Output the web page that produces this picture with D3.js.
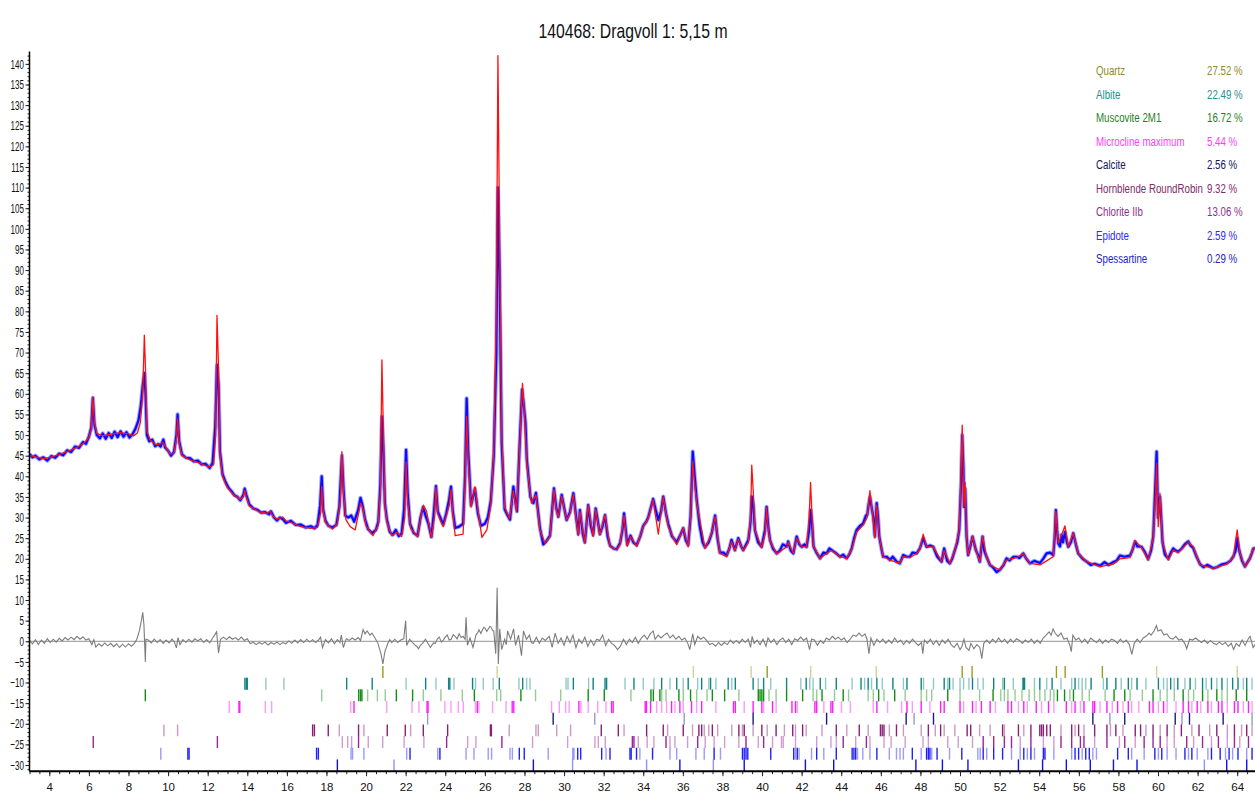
<!DOCTYPE html>
<html>
<head>
<meta charset="utf-8">
<script src="https://cdn.jsdelivr.net/npm/d3@7"></script>
<style>
  body { margin: 0; background: #fff; }
  svg { display: block; }
  text { font-family: "Liberation Sans", Arial, sans-serif; }
</style>
</head>
<body>
<svg id="chart" width="1255" height="793"></svg>
<script>
// ---- Rietveld refinement plot: 140468, Dragvoll 1, 5,15 m ----
const title = "140468: Dragvoll 1: 5,15 m";

// measured (observed) intensity, [2θ, counts/1000]
const observed = [[3.0,45.4],[3.15,44.6],[3.3,45.0],[3.5,44.1],[3.7,44.6],[3.9,43.8],[4.1,44.9],[4.3,44.5],[4.5,45.5],[4.7,45.1],[4.9,46.3],[5.1,45.9],[5.3,47.2],[5.5,46.9],[5.7,48.3],[5.85,47.9],[6.0,49.6],[6.12,51.8],[6.2,59],[6.28,52.5],[6.4,50.0],[6.55,49.2],[6.7,50.4],[6.85,49.1],[7.0,50.5],[7.15,49.3],[7.3,50.8],[7.45,49.5],[7.6,50.9],[7.75,49.6],[7.9,50.7],[8.05,49.4],[8.2,50.2],[8.35,51.5],[8.5,53.5],[8.62,57],[8.72,62],[8.8,65],[8.86,60],[8.93,50],[9.05,48.5],[9.2,48.9],[9.35,47.3],[9.5,47.8],[9.62,47.2],[9.76,48.9],[9.85,47.0],[10.0,46.2],[10.15,45.0],[10.3,45.9],[10.42,50],[10.48,55],[10.56,48.5],[10.7,45.3],[10.9,44.5],[11.1,44.4],[11.3,43.6],[11.5,43.8],[11.7,42.9],[11.9,43.0],[12.1,42.0],[12.25,43.3],[12.38,52],[12.47,67],[12.55,62],[12.62,46],[12.75,40.5],[12.9,38.6],[13.05,37.2],[13.2,36.4],[13.35,35.4],[13.5,35.0],[13.65,34.2],[13.8,35.5],[13.87,37],[13.95,35.5],[14.1,33.2],[14.3,32.2],[14.5,31.9],[14.7,31.2],[14.9,31.3],[15.1,30.8],[15.2,31.5],[15.35,30.0],[15.5,29.3],[15.65,30.0],[15.8,29.6],[15.95,28.7],[16.2,29.2],[16.45,28.2],[16.7,28.3],[16.95,27.6],[17.2,27.9],[17.4,27.4],[17.55,28.2],[17.68,33],[17.76,40],[17.83,32],[17.95,29.2],[18.1,28.0],[18.3,27.6],[18.5,28.2],[18.65,32.6],[18.78,45],[18.86,37],[18.95,30.5],[19.1,30.0],[19.25,30.5],[19.4,29.0],[19.6,31.8],[19.72,34.8],[19.82,33],[19.95,29.5],[20.1,27.2],[20.3,26.2],[20.5,27],[20.62,29],[20.72,38],[20.8,54.5],[20.87,47],[20.95,33.5],[21.05,29.5],[21.2,26.5],[21.35,25.8],[21.5,27.0],[21.65,25.5],[21.8,26.2],[21.92,32],[22.02,46.4],[22.1,36],[22.22,28.5],[22.4,26.3],[22.6,25.6],[22.75,30],[22.88,32.5],[23.0,30.5],[23.15,28.5],[23.3,25.3],[23.42,31],[23.53,37.6],[23.62,31.5],[23.75,30],[23.9,28.3],[24.05,31],[24.18,34],[24.29,37.5],[24.38,31.5],[24.5,27.5],[24.7,27.8],[24.9,28.5],[25.0,40],[25.08,58.9],[25.16,46],[25.3,33],[25.5,37],[25.65,31],[25.8,28],[26.0,28.5],[26.15,30],[26.3,34],[26.45,45],[26.58,70],[26.66,110],[26.74,90],[26.85,48],[27.0,32],[27.15,30.5],[27.27,29.5],[27.44,37.5],[27.55,33.5],[27.62,31.5],[27.75,47],[27.88,61],[27.95,58],[28.05,53],[28.12,44],[28.3,35],[28.45,33.5],[28.58,36],[28.78,27.5],[28.95,23.5],[29.1,24.2],[29.29,25.6],[29.49,37.1],[29.6,32.5],[29.71,30.2],[29.88,35.5],[30.0,32.5],[30.13,29.4],[30.3,31.3],[30.47,35.9],[30.6,30.5],[30.72,26],[30.8,31.8],[30.95,26],[31.05,24],[31.22,33],[31.35,28],[31.47,25.8],[31.6,32.2],[31.81,26],[31.95,28],[32.07,30.6],[32.2,25.5],[32.32,23.2],[32.5,22.5],[32.66,22.3],[32.83,23.8],[32.95,27],[33.03,31],[33.19,23.5],[33.36,25.6],[33.5,24],[33.67,23.3],[33.85,25.5],[34.0,28],[34.15,29],[34.25,30],[34.5,34.5],[34.62,32],[34.76,29.4],[34.9,31.5],[35.01,35.1],[35.15,31],[35.26,28.5],[35.45,25.5],[35.69,24],[35.85,25.5],[36.02,27.4],[36.15,24.5],[36.27,23.3],[36.39,30.2],[36.5,46],[36.6,40],[36.7,34.3],[36.85,28],[37.0,24],[37.12,22.8],[37.3,24],[37.46,26.2],[37.63,30.5],[37.75,25],[37.87,21.5],[38.05,21.5],[38.21,20.8],[38.35,22.5],[38.46,24.6],[38.63,22.1],[38.8,25],[38.95,23],[39.05,22.1],[39.2,23.5],[39.31,24.6],[39.42,29],[39.48,35.1],[39.56,33],[39.64,27],[39.8,24],[39.98,22.9],[40.15,27],[40.23,32.6],[40.32,27.5],[40.4,24.6],[40.55,22.5],[40.74,21.3],[40.9,22],[41.05,23.5],[41.25,23],[41.32,24.2],[41.45,22],[41.58,21.3],[41.75,25.4],[41.88,23.5],[42.0,22.9],[42.15,23.5],[42.25,22.9],[42.38,27],[42.45,31.8],[42.52,29],[42.6,23],[42.75,21.5],[42.93,20.1],[43.1,21.5],[43.26,21.3],[43.4,22.5],[43.52,22.1],[43.7,21.5],[43.94,20.5],[44.1,21],[44.27,20.1],[44.4,21],[44.53,22.5],[44.65,25],[44.78,27],[44.95,28],[45.11,28.6],[45.25,30.5],[45.31,30.6],[45.38,33],[45.45,35],[45.55,32],[45.62,30.2],[45.7,25.5],[45.79,33.5],[45.86,30],[45.92,25.4],[46.05,22],[46.12,20.5],[46.3,20.5],[46.46,19.7],[46.6,20.5],[46.8,19.3],[46.96,18.9],[47.13,20.9],[47.3,20.5],[47.47,20.5],[47.6,21.5],[47.81,21.3],[47.97,22.5],[48.14,25],[48.31,22.9],[48.5,23.2],[48.65,22.9],[48.85,20.5],[49.07,19.3],[49.2,22.5],[49.35,19.5],[49.49,18.9],[49.6,20],[49.74,22.1],[49.86,24],[49.96,27],[50.05,38],[50.11,50],[50.17,42],[50.2,32.6],[50.26,37],[50.33,25.4],[50.41,20.9],[50.52,23],[50.63,25.4],[50.8,22.1],[50.9,21],[51.0,19.3],[51.14,25.4],[51.22,22],[51.34,20.5],[51.51,18.5],[51.65,18],[51.85,16.8],[52.01,17.3],[52.2,18.5],[52.35,20.1],[52.5,19.6],[52.7,20.5],[52.86,20.5],[53.0,20.2],[53.19,21.3],[53.35,20],[53.53,18.9],[53.75,19.5],[54.04,19],[54.2,20],[54.37,21.3],[54.55,21.5],[54.71,20.9],[54.78,25],[54.84,31.8],[54.9,27],[54.96,23.8],[55.05,23],[55.13,25.8],[55.2,24],[55.3,26.5],[55.4,24],[55.47,22.9],[55.6,24],[55.72,26.2],[55.85,23.5],[55.97,21.3],[56.2,20],[56.4,19.3],[56.6,18.5],[56.8,18.8],[57.07,18.3],[57.3,19.2],[57.5,18.5],[57.74,19.2],[57.9,19.5],[58.08,20.8],[58.3,20.5],[58.59,20.8],[58.7,22],[58.84,24.2],[58.95,23],[59.05,23],[59.17,22.9],[59.35,21.5],[59.5,19.9],[59.65,22],[59.76,25.4],[59.85,36],[59.93,46],[60.0,30],[60.1,35],[60.16,30],[60.23,24],[60.35,21],[60.52,20],[60.65,21.5],[60.77,22.5],[60.9,22],[61.02,21.7],[61.2,22.5],[61.35,23.5],[61.53,24.2],[61.65,23.2],[61.78,22.6],[61.95,20.5],[62.12,18.7],[62.3,18],[62.5,18.5],[62.79,17.7],[63.0,18],[63.2,18.6],[63.47,18.9],[63.65,19.5],[63.8,20.5],[63.92,22],[64.0,25],[64.06,23],[64.14,21.3],[64.25,19.5],[64.39,18.1],[64.5,19],[64.64,20.1],[64.75,21.5],[64.81,22.5],[65.0,22.6]];

// refined (calculated) pattern
const calculated = [[3.0,45.1],[3.3,44.7],[3.7,44.3],[4.2,44.8],[4.9,46.0],[5.4,47.0],[5.75,48.0],[6.0,49.4],[6.12,51.5],[6.2,59.2],[6.28,53],[6.4,50.4],[6.7,49.8],[7.2,50.3],[7.6,50.6],[8.0,50.3],[8.25,49.8],[8.45,50.5],[8.6,53],[8.72,60],[8.8,74.2],[8.86,66],[8.93,51],[9.1,48.8],[9.4,47.6],[9.6,47.9],[9.75,48.2],[9.85,47.3],[10.1,45.4],[10.3,45.6],[10.42,49],[10.48,54.0],[10.56,48],[10.7,45],[11.1,44.0],[11.6,43.2],[12.1,42.2],[12.3,42.8],[12.4,50],[12.47,79],[12.55,66],[12.62,45],[12.75,40],[12.96,37.5],[13.3,35.5],[13.65,34.4],[13.8,35],[13.87,36.6],[13.95,35],[14.1,32.8],[14.6,31.4],[15.0,31.0],[15.15,31.6],[15.3,30.3],[15.5,29.6],[15.8,30.1],[15.95,29.2],[16.2,28.8],[16.7,27.8],[17.2,27.4],[17.55,27.6],[17.7,31],[17.76,37.5],[17.82,32],[17.95,28.8],[18.3,27.2],[18.55,28.5],[18.7,34],[18.78,46.0],[18.86,36],[18.98,29.5],[19.2,27.8],[19.45,27.0],[19.6,30.5],[19.72,33.5],[19.82,32.5],[20.0,28],[20.35,25.6],[20.6,28],[20.72,36],[20.8,68.2],[20.87,52],[20.95,33],[21.05,29],[21.3,25.6],[21.55,26.4],[21.8,25.4],[21.95,30],[22.02,43.5],[22.1,34],[22.25,27.4],[22.6,25.3],[22.8,31],[22.9,33.0],[23.05,31.6],[23.3,25.2],[23.45,30],[23.53,37.3],[23.62,31],[23.75,29.3],[23.9,27.8],[24.2,33],[24.29,36.8],[24.38,31],[24.5,25.6],[24.9,26.0],[25.0,38],[25.08,54.5],[25.16,44],[25.3,32.5],[25.5,37.5],[25.65,32],[25.85,25.2],[26.1,27],[26.3,33],[26.45,46],[26.58,80],[26.66,142],[26.74,100],[26.85,50],[27.0,32.5],[27.25,29.8],[27.44,36.5],[27.6,31.5],[27.75,46],[27.9,62.5],[28.0,55],[28.12,43],[28.35,33.5],[28.58,35.5],[28.78,27],[29.04,23.8],[29.29,25.4],[29.49,36.8],[29.6,32],[29.71,30.2],[29.88,35.2],[30.13,29.4],[30.3,31],[30.47,35.6],[30.6,30],[30.72,25.6],[30.8,31.5],[31.05,23.8],[31.22,33],[31.47,25.4],[31.6,32],[31.81,25.8],[32.07,30.6],[32.32,23],[32.66,22.2],[32.83,23.5],[33.03,30.5],[33.19,23],[33.36,25.4],[33.67,23],[34.0,27.8],[34.25,29.8],[34.5,34.3],[34.76,26],[35.01,35],[35.26,27.8],[35.69,23.4],[36.02,27.4],[36.27,22.9],[36.39,30],[36.5,43.6],[36.6,38],[36.7,33.5],[37.12,22.5],[37.46,26.2],[37.63,30.2],[37.87,21.3],[38.21,20.5],[38.46,24.2],[38.63,22],[38.8,24.8],[39.05,22],[39.31,24],[39.42,30],[39.48,42.7],[39.56,36],[39.64,27],[39.98,22.7],[40.15,26],[40.23,32.4],[40.32,27],[40.4,24.4],[40.74,21.2],[41.25,22.9],[41.32,24],[41.58,21.3],[41.75,25],[42.0,22.9],[42.25,22.9],[42.38,30],[42.45,38.5],[42.52,31],[42.6,23],[42.93,20.1],[43.26,21.3],[43.52,22],[43.94,20.5],[44.27,20.1],[44.53,22.3],[44.78,26.5],[45.11,28.2],[45.31,30],[45.45,36.5],[45.55,32],[45.62,29.5],[45.7,25],[45.79,33],[45.86,29],[45.92,25.4],[46.12,20.5],[46.46,19.7],[46.96,18.9],[47.13,20.5],[47.47,20.3],[47.81,21.3],[47.97,22.3],[48.14,26],[48.31,22.9],[48.65,22.9],[49.07,19.3],[49.2,22],[49.49,18.9],[49.74,22],[49.96,27],[50.05,40],[50.11,52.4],[50.17,40],[50.2,32.6],[50.26,38.5],[50.33,25.4],[50.41,20.9],[50.63,25.4],[50.8,22.1],[51.0,19.3],[51.14,25.4],[51.34,20.5],[51.51,18.5],[52.01,17.3],[52.35,19.7],[52.86,20.3],[53.19,21.2],[53.53,18.9],[54.04,18.5],[54.37,19.5],[54.71,20.5],[54.84,31.5],[54.96,23.8],[55.13,25.8],[55.3,28],[55.47,22.9],[55.72,26.2],[55.97,21.3],[56.4,19.3],[57.07,18.1],[57.74,18.7],[58.08,20],[58.59,20.3],[58.84,24.4],[59.17,22.7],[59.5,19.7],[59.76,25],[59.87,35],[59.93,43.2],[60.01,27.8],[60.1,35.9],[60.23,23.8],[60.52,19.7],[60.77,22.1],[61.02,21.5],[61.53,24],[61.78,22.9],[62.12,18.5],[62.79,17.7],[63.47,18.7],[63.8,20.3],[64.0,27],[64.14,21.3],[64.39,18.1],[64.64,20.1],[64.81,22.5],[65.0,22.8]];

// observed minus calculated
const difference = [[3.0,0.2],[3.15,-0.6],[3.3,0.4],[3.45,-0.8],[3.6,0.3],[3.75,-0.5],[3.9,0.6],[4.05,-0.3],[4.2,0.5],[4.35,-0.2],[4.5,0.7],[4.65,0.1],[4.8,0.9],[4.95,0.3],[5.1,1.0],[5.25,0.4],[5.4,1.2],[5.55,0.5],[5.7,1.1],[5.85,0.3],[6.0,0.6],[6.15,-0.8],[6.25,0.4],[6.35,-1.4],[6.5,-0.6],[6.65,-1.2],[6.8,-0.4],[6.95,-1.1],[7.1,-0.5],[7.25,-1.3],[7.4,-0.6],[7.55,-1.5],[7.7,-0.7],[7.85,-1.4],[8.0,-0.6],[8.15,-1.2],[8.3,-0.5],[8.42,0.5],[8.55,2.5],[8.65,5],[8.72,7],[8.78,4],[8.82,-1],[8.85,-5],[8.88,0.5],[9.0,0.3],[9.15,-0.4],[9.3,0.5],[9.45,-0.3],[9.6,0.4],[9.75,-0.5],[9.9,0.3],[10.05,-0.4],[10.2,0.5],[10.32,-0.2],[10.42,-1.6],[10.5,0.9],[10.6,-0.8],[10.75,0.4],[10.9,-0.3],[11.05,0.5],[11.2,-0.2],[11.35,0.6],[11.5,0.1],[11.65,0.6],[11.8,-0.3],[11.95,0.4],[12.1,-0.4],[12.25,0.8],[12.35,1.5],[12.45,2.3],[12.55,-2.8],[12.65,0.5],[12.8,1.0],[12.95,0.4],[13.1,1.1],[13.25,0.5],[13.4,0.9],[13.55,0.3],[13.7,1.0],[13.85,0.2],[14.0,0.6],[14.15,-0.6],[14.3,-0.2],[14.45,-0.8],[14.6,-0.3],[14.75,-0.7],[14.9,-0.2],[15.05,-0.9],[15.2,-0.3],[15.35,-0.7],[15.5,-0.2],[15.65,-0.8],[15.8,-0.3],[15.95,-0.6],[16.1,0.1],[16.25,-0.5],[16.4,0.3],[16.55,-0.4],[16.7,0.4],[16.85,-0.3],[17.0,0.5],[17.15,-0.2],[17.3,0.4],[17.45,-0.3],[17.6,0.3],[17.7,1.0],[17.8,-1.5],[17.95,0.4],[18.1,-0.4],[18.25,0.6],[18.4,-0.6],[18.55,0.4],[18.68,-0.3],[18.75,1.5],[18.85,-1.5],[19.0,0.6],[19.15,0.2],[19.3,0.8],[19.45,0.3],[19.6,0.9],[19.72,0.2],[19.85,2.8],[19.95,1.8],[20.05,2.5],[20.2,1.5],[20.3,2.0],[20.45,0.8],[20.6,-0.5],[20.75,-3],[20.85,-5.5],[20.95,-2.5],[21.1,-0.5],[21.2,0.4],[21.3,-0.3],[21.45,0.5],[21.6,-0.3],[21.75,0.3],[21.9,0.6],[22.0,5],[22.05,-1],[22.2,0.5],[22.35,-0.3],[22.45,-0.8],[22.55,-1.2],[22.65,-1.8],[22.75,-0.9],[22.85,-0.5],[23.0,0.5],[23.1,-0.3],[23.25,-1.5],[23.4,-0.4],[23.5,-0.5],[23.6,0.6],[23.7,1],[23.8,-0.2],[23.9,0.3],[24.0,1.0],[24.1,1.5],[24.2,0.3],[24.3,0.5],[24.4,1.6],[24.5,1.2],[24.6,0.6],[24.7,1.8],[24.8,0.9],[24.9,1.2],[25.0,0.5],[25.05,5.8],[25.12,-1],[25.25,0.8],[25.4,-1.5],[25.55,1.5],[25.65,2.2],[25.7,2.8],[25.8,1.9],[25.85,2.5],[25.95,3.4],[26.0,3.2],[26.1,2.4],[26.15,2.8],[26.25,3.6],[26.3,3.5],[26.4,2.6],[26.45,2.5],[26.55,-3],[26.62,13],[26.68,-5.5],[26.75,3],[26.85,-2],[27.0,0.5],[27.08,-0.8],[27.15,2.5],[27.3,0.5],[27.45,3],[27.55,-1],[27.7,1.5],[27.85,-3.5],[27.95,2.5],[28.1,0.5],[28.25,1.5],[28.35,-0.3],[28.45,-0.5],[28.6,1],[28.75,-0.5],[28.9,0.8],[29.05,0.2],[29.25,1.2],[29.4,-1.5],[29.55,2],[29.7,-0.5],[29.85,0.8],[30.0,-1],[30.15,1.2],[30.3,-0.3],[30.45,1.5],[30.6,-1.5],[30.75,0.5],[30.9,-0.5],[31.05,1],[31.2,-1.2],[31.35,0.3],[31.5,-1],[31.65,0.5],[31.8,0.2],[31.95,1.5],[32.1,-1],[32.25,0.5],[32.4,-0.5],[32.55,-1],[32.7,-2],[32.85,-1.2],[33.0,0.5],[33.15,-0.8],[33.3,0.5],[33.45,-0.3],[33.6,1],[33.75,-0.5],[33.9,0.8],[34.05,1.5],[34.2,0.5],[34.35,1.8],[34.5,2.5],[34.6,0.5],[34.75,1.5],[34.9,0.8],[35.05,1.5],[35.2,2],[35.35,0.8],[35.5,1.5],[35.65,0.5],[35.8,1.2],[35.95,0.3],[36.1,0.8],[36.25,-0.5],[36.35,-2],[36.5,1.8],[36.6,-0.8],[36.75,1.2],[36.9,0.5],[37.05,1],[37.2,0.2],[37.35,-0.8],[37.5,-0.5],[37.65,-1.2],[37.8,-0.3],[37.95,-1],[38.1,-0.3],[38.25,-0.8],[38.4,0.3],[38.55,-0.5],[38.7,0.2],[38.85,-0.5],[39.0,0.5],[39.15,-0.3],[39.3,0.5],[39.42,-1.5],[39.5,1.2],[39.6,-0.5],[39.75,0.3],[39.9,-0.8],[40.05,0.5],[40.2,-1.2],[40.3,0.8],[40.45,-0.3],[40.6,0.5],[40.75,-0.8],[40.9,0.3],[41.05,0.8],[41.2,-0.3],[41.35,0.5],[41.5,-0.8],[41.65,0.6],[41.8,0.2],[41.95,1],[42.1,0.2],[42.25,0.8],[42.4,-2],[42.5,0.5],[42.65,0.3],[42.8,-1],[42.95,0.2],[43.1,-0.5],[43.25,0.8],[43.4,0.3],[43.55,1.2],[43.7,0.5],[43.85,1],[44.0,0.3],[44.15,0.8],[44.3,-0.3],[44.45,0.5],[44.6,1.5],[44.75,1.2],[44.9,2],[45.05,1.2],[45.2,1.8],[45.3,0.5],[45.4,-3],[45.5,0.8],[45.65,-1],[45.8,0.5],[45.95,-0.3],[46.1,0.5],[46.25,-0.5],[46.4,0.3],[46.55,-0.5],[46.7,0.8],[46.85,-0.3],[47.0,0.3],[47.15,-0.8],[47.3,0.2],[47.45,-0.5],[47.6,0.5],[47.75,-0.3],[47.9,-1],[48.05,-0.3],[48.12,-3],[48.2,0.3],[48.35,-0.5],[48.5,0.5],[48.65,-0.8],[48.8,0.2],[48.95,-1],[49.1,0.3],[49.25,-0.5],[49.4,0.5],[49.55,-0.8],[49.7,-1.5],[49.85,-0.5],[50.0,-2],[50.1,-1.2],[50.2,0.5],[50.3,-1.5],[50.45,-2.2],[50.55,-0.5],[50.7,-1.8],[50.85,-0.8],[51.0,-1.5],[51.1,-4.2],[51.2,-0.5],[51.35,0.3],[51.5,-0.5],[51.65,0.5],[51.8,-0.3],[51.95,0.8],[52.1,-0.2],[52.25,0.5],[52.4,-0.5],[52.55,0.5],[52.7,-0.3],[52.85,0.6],[53.0,0.2],[53.15,-0.5],[53.3,0.3],[53.45,-0.3],[53.6,0.5],[53.75,-0.5],[53.9,0.3],[54.05,-0.5],[54.2,0.8],[54.35,1.5],[54.5,2.3],[54.6,1.5],[54.7,3],[54.8,2],[54.95,1.2],[55.1,2],[55.25,0.5],[55.4,0.8],[55.55,-1],[55.62,-2.5],[55.7,1.5],[55.85,0.3],[56.0,0.8],[56.15,-0.3],[56.3,0.5],[56.45,-0.5],[56.6,0.8],[56.75,0.2],[56.9,-0.3],[57.05,0.5],[57.2,-0.5],[57.35,0.3],[57.5,-0.3],[57.65,0.5],[57.8,0.2],[57.95,-0.5],[58.1,0.5],[58.25,-0.3],[58.4,0.3],[58.55,-0.8],[58.68,-3.2],[58.8,-0.5],[58.95,0.5],[59.1,-0.3],[59.25,0.8],[59.4,1.2],[59.55,2],[59.65,1.5],[59.8,2.5],[59.92,3.8],[60.0,2.5],[60.15,2.8],[60.3,1.5],[60.45,1.8],[60.6,0.8],[60.75,0.5],[60.9,1.2],[61.05,0.3],[61.2,0.5],[61.35,-0.5],[61.45,-1.8],[61.6,0.5],[61.75,0.3],[61.9,0.8],[62.05,0.2],[62.2,-0.3],[62.35,0.3],[62.5,-0.5],[62.65,0.2],[62.8,-0.5],[62.95,-0.8],[63.1,-0.2],[63.25,-0.8],[63.4,-0.3],[63.55,-1.2],[63.7,-0.5],[63.82,-2],[63.95,-0.5],[64.1,-1.2],[64.25,0.3],[64.4,-1],[64.55,0.5],[64.65,1.2],[64.8,-1.5],[64.95,-0.5]];

// phase names, weight fractions and colours
const phaseNames = ["Quartz", "Albite", "Muscovite 2M1", "Microcline maximum", "Calcite",
                    "Hornblende RoundRobin", "Chlorite IIb", "Epidote", "Spessartine"];
const phasePercents = ["27.52 %", "22.49 %", "16.72 %", "5.44 %", "2.56 %",
                       "9.32 %", "13.06 %", "2.59 %", "0.29 %"];
const phaseColors = ["#9b9b1e", "#108484", "#138c13", "#ff1cff", "#1c1c78",
                     "#8a1f78", "#9a269a", "#2020ff", "#1010e8"];
const legendColors = ["#8c8c28", "#2a8c8c", "#1f7f1f", "#ff3cff", "#14145a",
                      "#7f2a6a", "#8e2f8e", "#2c2cf0", "#2323c8"];

// reflection positions per phase: [2θ, relative strength]
const quartzTicks = [[20.85,1],[26.62,0.5],[36.53,0.5],[39.45,0.5],[40.26,1],[42.46,0.5],[45.77,0.5],[50.11,1],[50.61,1],[54.87,1],[55.31,1],[57.19,1],[59.93,0.5],[64.0,0.5]];
const albiteTicks = [[13.88,1],[13.95,1],[14.0,1],[14.94,0.5],[15.85,0.5],[19.02,1],[20.31,1],[22.02,0.5],[23.01,1],[23.53,0.5],[24.17,1],[24.23,1],[24.44,0.5],[25.38,1],[25.53,0.5],[25.92,0.5],[26.42,0.5],[26.73,1],[27.72,0.5],[27.91,1],[28.11,0.5],[28.28,0.5],[30.1,0.5],[30.2,0.5],[30.47,1],[31.24,0.5],[31.47,1],[32.07,1],[32.15,1],[33.08,0.5],[33.53,1],[34.0,0.5],[34.54,0.5],[34.93,1],[35.35,0.5],[35.69,1],[36.02,0.5],[36.27,1],[36.75,0.5],[36.95,1],[37.31,0.5],[37.4,1],[37.67,0.5],[38.29,1],[38.47,0.5],[38.65,1],[39.55,1],[39.81,0.5],[40.08,1],[40.44,0.5],[41.24,1],[41.96,0.5],[42.23,1],[42.41,0.5],[42.58,0.5],[42.94,1],[43.21,0.5],[43.75,1],[44.55,0.5],[45.0,1],[45.18,0.5],[45.36,1],[45.53,0.5],[45.8,1],[46.07,0.5],[46.61,1],[47.14,0.5],[47.32,1],[48.04,1],[48.16,0.5],[48.66,0.5],[49.2,1],[49.38,0.5],[49.47,1],[49.65,0.5],[50.0,0.5],[50.18,0.5],[50.45,0.5],[50.63,1],[50.9,0.5],[51.17,0.5],[51.7,1],[52.15,0.5],[52.24,1],[52.69,0.5],[53.18,1],[53.22,1],[53.26,1],[53.76,0.5],[54.03,1],[54.38,0.5],[54.65,1],[55.1,0.5],[55.64,0.5],[55.81,1],[55.99,0.5],[56.17,0.5],[56.35,0.5],[56.62,1],[57.24,0.5],[57.42,1],[57.87,1],[58.14,0.5],[58.5,1],[58.67,0.5],[58.94,1],[59.39,0.5],[60.02,1],[60.28,0.5],[60.46,0.5],[60.64,1],[60.82,0.5],[61.0,1],[61.36,0.5],[61.62,1],[61.89,0.5],[62.25,1],[62.43,0.5],[62.7,1],[62.97,0.5],[63.23,1],[63.5,0.5],[63.77,1],[64.04,1],[64.31,0.5],[64.48,1],[64.75,0.5]];
const muscoviteTicks = [[8.85,1],[17.76,0.5],[19.63,1],[19.72,1],[19.79,1],[20.08,0.5],[20.57,0.5],[20.97,0.5],[21.53,1],[22.35,1],[22.89,0.5],[23.78,0.5],[24.86,0.5],[25.47,1],[26.6,0.5],[26.8,0.5],[27.82,1],[28.56,0.5],[29.83,0.5],[31.22,1],[32.03,1],[33.38,0.5],[34.39,1],[34.51,1],[34.84,1],[34.93,0.5],[35.15,0.5],[35.8,1],[36.02,0.5],[36.39,1],[36.7,0.5],[37.22,0.5],[37.49,1],[38.11,1],[38.83,0.5],[39.81,1],[39.9,1],[39.99,1],[40.08,1],[40.35,0.5],[40.71,0.5],[41.24,1],[42.05,1],[42.58,0.5],[42.76,0.5],[43.03,1],[43.66,0.5],[44.1,1],[44.37,0.5],[45.36,0.5],[45.62,0.5],[45.89,1],[46.16,0.5],[46.7,1],[47.23,0.5],[48.04,0.5],[48.31,0.5],[48.57,0.5],[49.38,1],[50.0,0.5],[50.99,0.5],[51.67,1],[52.06,0.5],[52.24,0.5],[52.42,0.5],[52.78,0.5],[53.13,0.5],[53.49,0.5],[53.76,0.5],[54.03,0.5],[54.29,0.5],[54.56,0.5],[54.74,0.5],[54.92,1],[55.28,1],[55.55,0.5],[55.73,1],[56.17,0.5],[56.53,0.5],[57.33,0.5],[57.78,1],[58.32,1],[58.59,0.5],[59.21,0.5],[59.75,1],[60.11,0.5],[60.46,0.5],[60.82,0.5],[61.27,1],[61.54,0.5],[61.8,0.5],[62.25,1],[62.52,0.5],[62.97,1],[63.23,0.5],[63.5,0.5],[63.95,1],[64.48,1]];
const microclineTicks = [[13.09,0.5],[13.58,1],[13.62,1],[14.91,0.5],[15.23,0.5],[19.22,0.5],[19.39,1],[21.04,0.5],[22.32,0.5],[22.67,0.5],[23.08,1],[23.13,1],[23.98,0.5],[24.29,0.5],[24.66,0.5],[24.91,0.5],[25.52,0.5],[25.62,1],[25.7,0.5],[26.39,0.5],[27.07,0.5],[27.38,1],[27.46,1],[29.37,0.5],[29.76,0.5],[30.08,0.5],[30.26,0.5],[30.75,1],[30.85,0.5],[31.22,0.5],[31.7,0.5],[32.12,0.5],[32.4,1],[32.48,1],[34.1,1],[34.16,1],[34.37,1],[34.68,0.5],[34.93,0.5],[35.18,0.5],[35.43,1],[35.6,0.5],[35.85,1],[36.02,0.5],[36.44,1],[36.7,0.5],[36.95,1],[37.67,0.5],[38.56,1],[38.65,1],[39.1,0.5],[39.55,1],[39.99,1],[40.08,0.5],[40.53,1],[40.71,0.5],[41.51,1],[41.69,1],[41.78,0.5],[42.67,1],[42.76,1],[43.12,0.5],[43.48,1],[43.57,1],[44.01,0.5],[44.46,0.5],[45.62,0.5],[45.8,1],[46.34,0.5],[47.05,0.5],[47.32,1],[47.59,0.5],[48.04,1],[48.48,0.5],[49.02,1],[49.2,1],[50.0,1],[50.18,0.5],[50.63,1],[50.81,0.5],[51.08,1],[51.52,1],[51.79,0.5],[52.42,1],[52.6,1],[52.95,0.5],[53.22,1],[53.4,0.5],[53.85,1],[54.12,0.5],[54.47,1],[54.74,0.5],[55.37,1],[55.64,0.5],[55.81,1],[56.08,0.5],[56.26,1],[56.71,1],[56.8,1],[57.07,0.5],[57.42,1],[57.69,0.5],[57.96,1],[58.23,0.5],[58.5,1],[58.67,0.5],[59.03,0.5],[59.57,1],[59.75,1],[60.02,0.5],[60.28,1],[60.46,0.5],[60.91,0.5],[61.27,1],[61.54,1],[61.71,0.5],[61.98,1],[62.16,0.5],[62.52,1],[62.7,0.5],[63.05,1],[63.23,1],[63.5,0.5],[63.86,1],[64.04,1],[64.31,0.5],[64.57,1],[64.75,0.5]];
const calciteTicks = [[23.11,0.5],[29.45,1],[31.55,0.5],[36.07,0.5],[39.55,1],[43.26,1],[47.28,1],[47.68,0.5],[48.66,1],[56.71,1],[57.57,0.5],[58.32,1],[60.87,1],[61.21,0.5],[61.59,1],[63.29,1],[64.75,0.5]];
const hornblendeTicks = [[9.79,0.5],[10.48,0.5],[17.3,1],[17.39,1],[18.09,1],[18.65,0.5],[19.62,1],[19.89,0.5],[21.07,1],[21.98,1],[22.25,0.5],[22.89,1],[24.12,1],[26.28,1],[26.33,1],[27.23,0.5],[28.58,0.5],[28.7,0.5],[29.63,0.5],[30.33,0.5],[31.88,1],[32.74,1],[33.03,0.5],[34.17,1],[35.01,1],[35.23,0.5],[36.02,1],[36.49,0.5],[36.81,1],[36.95,1],[37.08,0.5],[37.31,0.5],[37.49,1],[37.76,0.5],[38.47,0.5],[38.83,1],[39.01,0.5],[39.1,1],[39.55,0.5],[39.99,1],[40.26,0.5],[40.71,1],[41.13,0.5],[41.55,1],[41.69,0.5],[42.05,1],[42.23,0.5],[43.03,0.5],[43.75,1],[44.28,0.5],[44.91,1],[45.36,0.5],[45.98,1],[46.07,1],[46.16,1],[46.43,0.5],[46.79,1],[47.14,0.5],[48.04,0.5],[48.4,1],[48.75,0.5],[49.02,1],[49.2,0.5],[49.74,0.5],[50.36,1],[50.54,1],[50.99,0.5],[51.52,0.5],[52.15,1],[52.24,0.5],[52.95,1],[53.22,0.5],[53.58,1],[54.03,1],[54.12,1],[54.21,1],[54.38,1],[54.56,1],[55.1,0.5],[55.64,1],[55.81,0.5],[55.99,1],[56.26,0.5],[56.8,1],[57.42,1],[57.6,0.5],[57.87,1],[58.23,0.5],[58.85,1],[59.12,1],[59.39,0.5],[59.75,1],[60.11,0.5],[60.46,1],[60.82,0.5],[61.18,1],[61.71,0.5],[62.07,1],[62.61,0.5],[62.97,1],[63.5,0.5],[63.86,1],[64.22,0.5],[64.48,1],[64.75,0.5]];
const chloriteTicks = [[6.22,1],[12.49,1],[18.8,0.5],[19.07,0.5],[19.27,0.5],[19.62,1],[20.11,0.5],[20.84,0.5],[21.92,0.5],[22.92,0.5],[24.07,1],[25.13,0.5],[25.55,0.5],[26.86,1],[28.41,0.5],[30.18,0.5],[31.56,0.5],[31.73,0.5],[32.08,0.5],[33.45,1],[33.53,1],[33.75,0.5],[34.2,0.5],[34.54,0.5],[35.15,1],[35.35,0.5],[35.6,0.5],[36.24,0.5],[36.75,1],[37.13,0.5],[37.58,0.5],[38.11,0.5],[38.83,0.5],[39.19,1],[39.81,0.5],[40.08,1],[40.53,0.5],[40.98,0.5],[41.07,0.5],[41.69,0.5],[42.76,0.5],[43.48,0.5],[43.75,0.5],[44.1,1],[44.73,0.5],[45.27,1],[45.45,0.5],[46.16,0.5],[46.52,0.5],[47.23,0.5],[48.13,0.5],[48.4,0.5],[49.38,0.5],[49.91,0.5],[50.63,0.5],[51.17,1],[51.7,1],[52.24,1],[52.6,1],[53.04,0.5],[53.58,1],[54.21,0.5],[54.74,0.5],[55.1,1],[55.64,1],[56.08,1],[56.26,1],[56.8,0.5],[57.42,1],[58.05,0.5],[58.32,1],[58.85,0.5],[59.3,1],[59.75,1],[60.11,1],[60.46,0.5],[60.82,0.5],[61.45,1],[61.8,0.5],[62.25,1],[62.7,0.5],[63.05,1],[63.5,0.5],[63.86,1],[64.13,0.5],[64.57,1]];
const epidoteTicks = [[9.63,0.5],[11.0,1],[11.06,1],[17.5,1],[17.59,1],[19.24,0.5],[19.32,0.5],[19.89,0.5],[22.05,0.5],[22.22,1],[23.62,0.5],[23.73,1],[25.05,0.5],[25.45,0.5],[26.17,0.5],[26.34,0.5],[27.27,0.5],[27.39,0.5],[27.74,1],[27.99,1],[29.2,0.5],[30.44,0.5],[30.5,0.5],[30.69,1],[30.84,1],[31.9,1],[32.12,0.5],[32.32,1],[33.33,1],[33.39,1],[33.66,1],[33.83,0.5],[34.47,1],[35.35,0.5],[35.69,0.5],[36.66,0.5],[37.08,0.5],[37.58,1],[37.9,0.5],[39.01,1],[39.1,1],[39.19,1],[39.28,1],[40.44,1],[41.6,1],[41.69,0.5],[41.78,1],[41.87,0.5],[42.5,0.5],[42.76,1],[43.12,0.5],[43.75,1],[44.55,1],[44.64,1],[44.73,1],[44.82,0.5],[45.09,0.5],[45.45,0.5],[45.8,1],[46.43,0.5],[46.79,0.5],[46.97,0.5],[47.14,0.5],[47.59,1],[48.04,0.5],[48.31,1],[48.4,1],[48.48,1],[48.57,0.5],[48.84,1],[49.47,0.5],[50.09,1],[50.9,0.5],[51.02,0.5],[51.17,1],[51.35,0.5],[51.7,1],[52.15,1],[52.6,0.5],[53.04,0.5],[53.22,1],[53.4,0.5],[53.58,1],[53.76,0.5],[54.21,1],[54.29,1],[54.74,0.5],[55.64,0.5],[55.81,1],[55.99,1],[56.17,0.5],[56.35,1],[56.53,1],[56.71,0.5],[56.89,0.5],[57.96,1],[58.5,1],[58.67,0.5],[59.3,0.5],[59.84,1],[60.02,0.5],[60.19,1],[60.46,0.5],[60.91,0.5],[61.36,1],[61.54,0.5],[61.71,1],[61.98,0.5],[62.52,0.5],[62.7,1],[63.14,1],[63.41,0.5],[63.59,1],[63.77,0.5],[64.04,1],[64.48,0.5],[64.75,1]];
const spessartineTicks = [[18.55,1],[21.41,0.5],[28.45,1],[30.43,0.5],[34.17,0.5],[35.85,1],[37.54,0.5],[39.1,1],[42.19,1],[43.62,1],[47.77,1],[49.11,1],[50.4,1],[52.95,1],[54.17,1],[55.37,1],[56.58,1],[57.75,1],[58.94,1],[62.34,0.5],[63.47,1],[64.48,1]];

const phaseTicks = [quartzTicks, albiteTicks, muscoviteTicks, microclineTicks, calciteTicks,
                    hornblendeTicks, chloriteTicks, epidoteTicks, spessartineTicks];

// axis tick labels
const xTickLabels = [4,6,8,10,12,14,16,18,20,22,24,26,28,30,32,34,36,38,40,42,44,46,48,50,52,54,56,58,60,62,64];
const yTickLabels = [140,135,130,125,120,115,110,105,100,95,90,85,80,75,70,65,60,55,50,45,40,35,30,25,20,15,10,5,0,-5,-10,-15,-20,-25,-30];

// ---- layout ----
const W = 1255, H = 793;
const svg = d3.select("#chart");
const x = d3.scaleLinear().domain([3, 65]).range([29.5, 1257]);
const y = d3.scaleLinear().domain([-31.5, 143]).range([771.2, 51.5]);
const narrow = 0.62; // condensed lettering for the axis numbers

svg.append("defs").append("clipPath").attr("id", "plotClip")
  .append("rect").attr("x", x(3)).attr("y", y(143)).attr("width", x(65) - x(3)).attr("height", y(-31.5) - y(143));

// title
svg.append("text")
  .attr("transform", `translate(633,38) scale(0.75,1)`)
  .attr("text-anchor", "middle")
  .attr("font-size", 21)
  .attr("fill", "#111")
  .text(title);

const plot = svg.append("g").attr("clip-path", "url(#plotClip)");

// zero reference of the difference curve
plot.append("line")
  .attr("x1", x(3)).attr("x2", x(65))
  .attr("y1", y(0)).attr("y2", y(0))
  .attr("stroke", "#a8a8a8").attr("stroke-width", 1.2);

const line = d3.line().x(d => x(d[0])).y(d => y(d[1]));

plot.append("path").datum(difference)
  .attr("d", line).attr("fill", "none")
  .attr("stroke", "#7d7d7d").attr("stroke-width", 1.1);

// observed pattern: soft halo under a solid core, like a dense noisy trace
plot.append("path").datum(observed)
  .attr("d", line).attr("fill", "none")
  .attr("stroke", "#5a5aff").attr("stroke-opacity", 0.55).attr("stroke-width", 4.2)
  .attr("stroke-linejoin", "round");
plot.append("path").datum(observed)
  .attr("d", line).attr("fill", "none")
  .attr("stroke", "#0a0aff").attr("stroke-width", 2.2)
  .attr("stroke-linejoin", "round");

plot.append("path").datum(calculated)
  .attr("d", line).attr("fill", "none")
  .attr("stroke", "#ff1010").attr("stroke-width", 1.3)
  .attr("stroke-linejoin", "round");

// reflection markers, one row per phase
const rowTop = i => -6.0 - 2.83 * i;
phaseTicks.forEach((ticks, i) => {
  plot.append("g").selectAll("line").data(ticks).join("line")
    .attr("x1", d => x(d[0])).attr("x2", d => x(d[0]))
    .attr("y1", y(rowTop(i))).attr("y2", y(rowTop(i) - 2.9))
    .attr("stroke", phaseColors[i])
    .attr("stroke-opacity", d => d[1] < 1 ? 0.45 : 1)
    .attr("stroke-width", 1.4);
});

// axes
const yAxis = svg.append("g").attr("transform", `translate(${x(3)},0)`);
yAxis.call(d3.axisLeft(y).tickValues(d3.range(-31, 143, 1)).tickSize(2).tickFormat(""));
yAxis.call(g => g.select(".domain").remove());
const yMajor = svg.append("g").attr("transform", `translate(${x(3)},0)`)
  .call(d3.axisLeft(y).tickValues(yTickLabels).tickSize(4).tickPadding(2));
yMajor.select(".domain").attr("d", `M0,${y(-31.5)}V${y(143)}`).attr("stroke-width", 1.5);
yMajor.selectAll("text")
  .attr("font-family", '"Liberation Sans", Arial, sans-serif')
  .attr("font-size", 13).attr("fill", "#111")
  .attr("transform", `scale(${narrow},1)`)
  .attr("x", -5.5 / narrow);

const xAxis = svg.append("g").attr("transform", `translate(0,${y(-31.5)})`);
xAxis.call(d3.axisBottom(x).tickValues(d3.range(3, 65.01, 0.5)).tickSize(3).tickFormat(""));
xAxis.call(g => g.select(".domain").remove());
const xMajor = svg.append("g").attr("transform", `translate(0,${y(-31.5)})`)
  .call(d3.axisBottom(x).tickValues(xTickLabels).tickSize(5).tickPadding(4));
xMajor.select(".domain").attr("d", `M${x(3)},0H${W}`).attr("stroke-width", 2);
// numbers sit low against the bottom edge, kept fully inside the frame
xMajor.selectAll("text")
  .attr("font-family", '"Liberation Sans", Arial, sans-serif')
  .attr("font-size", 11.5).attr("fill", "#111")
  .attr("y", 12).attr("dy", "0.7em");
svg.selectAll(".tick line").attr("stroke", "#222");

// phase legend
const legend = svg.append("g");
phaseNames.forEach((name, i) => {
  const yy = 75 + 23.5 * i;
  legend.append("text")
    .attr("transform", `translate(1096,${yy}) scale(0.72,1)`)
    .attr("font-size", 13.5).attr("fill", legendColors[i]).text(name);
  legend.append("text")
    .attr("transform", `translate(1207,${yy}) scale(0.72,1)`)
    .attr("font-size", 13.5).attr("fill", legendColors[i]).text(phasePercents[i]);
});
</script>
</body>
</html>
